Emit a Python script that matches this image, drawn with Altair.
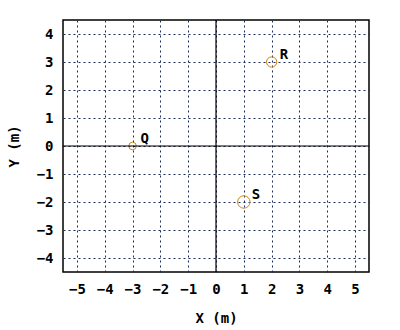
import altair as alt
import pandas as pd

labels = ["Q", "R", "S"]
xs = [-3, 2, 1]
ys = [0, 3, -2]
mass = [1, 2, 3]
x_ticks = [-5, -4, -3, -2, -1, 0, 1, 2, 3, 4, 5]
y_ticks = [-4, -3, -2, -1, 0, 1, 2, 3, 4]

df = pd.DataFrame({"label": labels, "x": xs, "y": ys, "mass": mass})
zero = pd.DataFrame({"v": [0]})

FONT = "DejaVu Sans Mono"
xscale = alt.Scale(domain=[-5.5, 5.5], nice=False, zero=False)
yscale = alt.Scale(domain=[-4.5, 4.5], nice=False, zero=False)

def xaxis():
    return alt.Axis(values=x_ticks, grid=True, title="X (m)", tickSize=0, tickCount=11,
                    labelPadding=10, titlePadding=15, domain=False, labelOverlap=False, format="d")

def yaxis():
    return alt.Axis(values=y_ticks, grid=True, title="Y (m)", tickSize=0, tickCount=9,
                    labelPadding=10, titlePadding=15, domain=False, labelOverlap=False, format="d")

base = alt.Chart(df)

points = base.mark_point(shape="circle", filled=False, color="#c8861a", strokeWidth=1, opacity=1).encode(
    x=alt.X("x:Q", scale=xscale, axis=xaxis()),
    y=alt.Y("y:Q", scale=yscale, axis=yaxis()),
    size=alt.Size("mass:Q", scale=alt.Scale(domain=[1, 3], range=[57, 154]), legend=None),
)

text = base.mark_text(align="left", baseline="middle", dx=8, dy=-7, font=FONT,
                      fontWeight="bold", fontSize=14, color="black").encode(
    x=alt.X("x:Q", scale=xscale, axis=xaxis()),
    y=alt.Y("y:Q", scale=yscale, axis=yaxis()),
    text="label:N",
)

vrule = alt.Chart(zero).mark_rule(color="black", strokeWidth=1.2).encode(
    x=alt.X("v:Q", scale=xscale, axis=xaxis()))
hrule = alt.Chart(zero).mark_rule(color="black", strokeWidth=1.2).encode(
    y=alt.Y("v:Q", scale=yscale, axis=yaxis()))

chart = alt.layer(points, text, vrule, hrule).properties(
    width=306, height=252,
    background="white",
    autosize=alt.AutoSizeParams(type="none"),
    padding={"left": 63, "top": 20, "right": 31, "bottom": 58},
).configure_view(stroke="black", strokeWidth=1.5).configure_axis(
    labelFont=FONT, labelFontWeight="bold", labelFontSize=14, labelColor="black",
    titleFont=FONT, titleFontWeight="bold", titleFontSize=14, titleColor="black",
    gridColor="#1a2a5a", gridDash=[2, 3], gridWidth=1, gridOpacity=1,
)

chart.save("out.html", embed_options={"renderer": "svg", "actions": False})
